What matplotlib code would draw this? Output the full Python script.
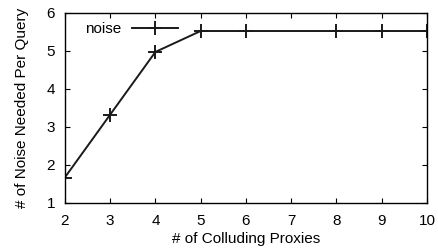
import matplotlib
matplotlib.use("Agg")
import matplotlib.pyplot as plt

plt.rcParams["font.family"] = ["Liberation Sans", "DejaVu Sans"]

proxies = [2, 3, 4, 5, 6, 8, 9, 10]
noise = [1.67, 3.32, 4.97, 5.52, 5.52, 5.52, 5.52, 5.52]

fig, ax = plt.subplots(figsize=(4.38, 2.5), dpi=100)
fig.subplots_adjust(left=0.148, right=0.975, bottom=0.188, top=0.949)

ax.plot(proxies, noise, color="#1a1a1a", linewidth=1.4, marker="+",
        markersize=10, markeredgewidth=1.4, label="noise")

ax.set_xlim(2, 10)
ax.set_ylim(1, 6)
ax.set_xticks(range(2, 11))
ax.set_yticks(range(1, 7))
ax.tick_params(direction="in", top=True, right=True, length=3.5,
               width=0.8, labelsize=11, pad=8)
ax.tick_params(axis="y", pad=7)
for s in ax.spines.values():
    s.set_linewidth(1.0)
ax.set_xlabel("# of Colluding Proxies", fontsize=11, labelpad=3)
ax.set_ylabel("# of Noise Needed Per Query", fontsize=11, labelpad=13)

leg = ax.legend(loc="upper left", frameon=False, markerfirst=False,
                handlelength=3.0, fontsize=11, borderaxespad=0.2,
                handletextpad=0.7, bbox_to_anchor=(0.03, 1.0))

fig.savefig("out.png", dpi=100)
